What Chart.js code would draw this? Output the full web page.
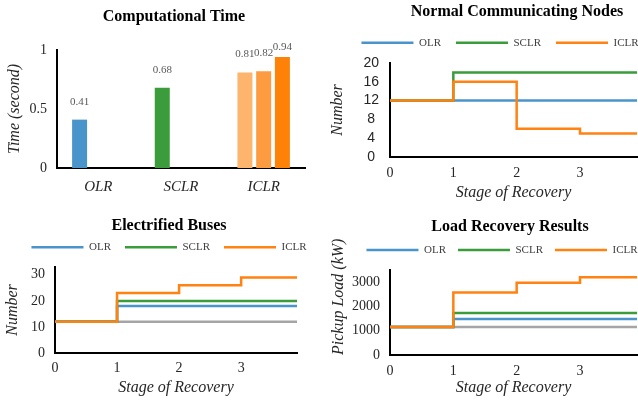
<!DOCTYPE html>
<html>
<head>
<meta charset="utf-8">
<script src="https://cdn.jsdelivr.net/npm/chart.js@4.4.1/dist/chart.umd.min.js"></script>
<style>
  html, body { margin: 0; padding: 0; background: #fff; }
  #wrap { position: relative; width: 638px; height: 403px; overflow: hidden; }
  canvas { position: absolute; }
</style>
</head>
<body>
<div id="wrap">
  <canvas id="chart-time" width="319" height="200" style="left:0;top:0"></canvas>
  <canvas id="chart-nodes" width="319" height="203" style="left:319px;top:0"></canvas>
  <canvas id="chart-buses" width="319" height="203" style="left:0;top:200px"></canvas>
  <canvas id="chart-load" width="319" height="203" style="left:319px;top:200px"></canvas>
</div>
<script>
Chart.defaults.font.family = "'Liberation Serif', 'Times New Roman', serif";
Chart.defaults.color = '#262626';
Chart.defaults.animation = false;

// computational time (seconds), ICLR has three bars
var methods = ['OLR', 'SCLR', 'ICLR'];
var timeFirst = [0.41, 0.68, 0.81];
var timeSecond = [null, null, 0.82];
var timeThird = [null, null, 0.94];
var timeTicks = [0, 0.5, 1];

// stage of recovery (last point only carries the line to the edge)
var stages = [0, 1, 2, 3, 4];
var stageTicks = [0, 1, 2, 3];

var nodesOLR = [12, 12, 12, 12, 12];
var nodesSCLR = [12, 18, 18, 18, 18];
var nodesICLR = [12, 16, 6, 5, 5];
var nodesTicks = [0, 4, 8, 12, 16, 20];

var busesBase = [12, 12, 12, 12, 12];
var busesOLR = [12, 18, 18, 18, 18];
var busesSCLR = [12, 20, 20, 20, 20];
var busesICLR = [12, 23, 26, 29, 29];
var busesTicks = [0, 10, 20, 30];

var loadBase = [1150, 1150, 1150, 1150, 1150];
var loadOLR = [1150, 1480, 1480, 1480, 1480];
var loadSCLR = [1150, 1730, 1730, 1730, 1730];
var loadICLR = [1150, 2570, 2980, 3200, 3200];
var loadTicks = [0, 1000, 2000, 3000];

//colors
var blue = '#4a94cc', green = '#3a9c3a', orange = '#ff8212', gray = '#a5a5a5';
var orangeLight = '#fdb46c', orangeMid = '#fd9b40', orangeDark = '#fe8208';

// title and legend are a bit off-centre in the original, move them after layout
var nudge = {
    id: 'nudge',
    afterLayout: function(chart, args, opts) {
        [[chart.titleBlock, opts.title], [chart.legend, opts.legend]].forEach(function(p) {
            if (!p[0] || !p[1]) return;
            p[0].left += p[1][0]; p[0].right += p[1][0];
            p[0].top += p[1][1]; p[0].bottom += p[1][1];
        });
    }
};

// long y title that runs above the plot (chart.js would squeeze it to the axis height)
var sideTitle = {
    id: 'sideTitle',
    afterDraw: function(chart, args, opts) {
        if (!opts.text) return;
        var ctx = chart.ctx;
        ctx.save();
        ctx.translate(opts.x, chart.chartArea.bottom);
        ctx.rotate(-Math.PI / 2);
        ctx.font = "italic 16px 'Liberation Serif'";
        ctx.fillStyle = '#262626';
        ctx.textAlign = 'left';
        ctx.textBaseline = 'middle';
        ctx.fillText(opts.text, 0, 0);
        ctx.restore();
    }
};

// value labels above the bars
var barLabels = {
    id: 'barLabels',
    afterDatasetsDraw: function(chart) {
        var ctx = chart.ctx;
        ctx.save();
        ctx.font = "11px 'Liberation Serif'";
        ctx.fillStyle = '#595959';
        ctx.textAlign = 'center';
        ctx.textBaseline = 'middle';
        chart.data.datasets.forEach(function(ds, i) {
            chart.getDatasetMeta(i).data.forEach(function(bar, j) {
                if (ds.data[j] == null) return;
                var y = Math.max(bar.y - 18, chart.chartArea.top - 3);
                ctx.fillText(ds.data[j].toFixed(2), bar.x, y);
            });
        });
        ctx.restore();
    }
};

function fixedTicks(values) {
    return function(s) { s.ticks = values.map(function(v) { return {value: v}; }); };
}

function padAxis(w) {
    return {
        type: 'linear', position: 'right', display: true,
        grid: {display: false, drawTicks: false}, border: {display: false}, ticks: {display: false},
        afterFit: function(s) { s.width = w; }
    };
}

new Chart(document.getElementById('chart-time'), {
    type: 'bar',
    data: {
        labels: methods,
        datasets: [
            {data: timeFirst, backgroundColor: [blue, green, orangeLight]},
            {data: timeSecond, backgroundColor: orangeMid},
            {data: timeThird, backgroundColor: orangeDark}
        ]
    },
    options: {
        responsive: false,
        events: [],
        layout: {padding: {top: 30.8}},
        datasets: {bar: {categoryPercentage: 0.68, barPercentage: 0.8}},
        plugins: {
            legend: {display: false},
            tooltip: {enabled: false},
            title: {display: true, text: 'Computational Time', color: '#000', font: {size: 16, weight: 'bold'}, padding: 0},
            nudge: {title: [14.5, -23.1]}
        },
        scales: {
            x: {
                grid: {display: false, drawTicks: false},
                border: {color: '#000', width: 2},
                ticks: {font: {size: 15, style: 'italic'}, padding: 10},
                afterFit: function(s) { s.height = 32; }
            },
            y: {
                min: 0, max: 1,
                grid: {display: false, drawTicks: false},
                border: {color: '#000', width: 2},
                afterBuildTicks: fixedTicks(timeTicks),
                ticks: {autoSkip: false, font: {size: 14}, padding: 10,
                    callback: function(v) { return '' + v; }},
                title: {display: true, text: 'Time (second)', font: {size: 16, style: 'italic'}, padding: {top: 5.4, bottom: 0}},
                afterFit: function(s) { s.width = 57; }
            },
            pad: padAxis(14)
        }
    },
    plugins: [nudge, barLabels]
});

function stepChart(id, title, yTitle, yMax, yTicks, series, base, lay) {
    var list = series.slice().reverse();   // ICLR drawn on top
    if (base) list.push({label: 'base', data: base, color: gray});
    var datasets = list.map(function(s) {
        return {
            label: s.label,
            data: stages.map(function(x, i) { return {x: x, y: s.data[i]}; }),
            borderColor: s.color,
            backgroundColor: s.color,
            borderWidth: 2.5,
            pointRadius: 0,
            pointBorderWidth: 2.5,
            stepped: true,
            fill: false
        };
    });

    var scales = {
        x: {
            type: 'linear', min: 0, max: 3.9,
            grid: {display: false, drawTicks: false},
            border: {color: '#000', width: 2},
            afterBuildTicks: fixedTicks(stageTicks),
            ticks: {autoSkip: false, font: {size: 14}, padding: lay.xTickPad},
            title: {display: true, text: 'Stage of Recovery', font: {size: 16, style: 'italic'}, padding: {top: 0, bottom: lay.xTitlePad}},
            afterFit: function(s) { s.height = lay.bottom; }
        },
        y: {
            type: 'linear', min: 0, max: yMax,
            grid: {display: false, drawTicks: false},
            border: {color: '#000', width: 2},
            afterBuildTicks: fixedTicks(yTicks),
            ticks: {
                autoSkip: false, padding: lay.yTickPad,
                font: lay.yTickFont || {size: 14},
                crossAlign: lay.yCross || 'near',
                callback: function(v) { return '' + v; }
            },
            title: {display: !lay.sideTitle, text: yTitle, font: {size: 16, style: 'italic'}, padding: {top: lay.yTitlePad, bottom: 0}},
            afterFit: function(s) { s.width = lay.left; }
        }
    };
    if (lay.right) scales.pad = padAxis(lay.right);

    return new Chart(document.getElementById(id), {
        type: 'line',
        data: {datasets: datasets},
        options: {
            responsive: false,
            events: [],
            layout: {padding: {top: lay.top}},
            plugins: {
                tooltip: {enabled: false},
                title: {display: true, text: title, color: '#000', font: {size: 16, weight: 'bold'}, padding: 0},
                legend: {
                    display: true,
                    reverse: true,
                    labels: {
                        usePointStyle: true, pointStyle: 'line', pointStyleWidth: 52,
                        font: {size: 11}, color: '#404040', padding: lay.legendPad,
                        filter: function(item) { return item.text !== 'base'; }
                    }
                },
                nudge: {title: lay.titleNudge, legend: lay.legendNudge},
                sideTitle: {text: lay.sideTitle ? yTitle : '', x: lay.sideTitle}
            },
            scales: scales
        },
        plugins: [nudge, sideTitle]
    });
}

stepChart('chart-nodes', 'Normal Communicating Nodes', 'Number', 20, nodesTicks,
    [{label: 'OLR', data: nodesOLR, color: blue},
     {label: 'SCLR', data: nodesSCLR, color: green},
     {label: 'ICLR', data: nodesICLR, color: orange}],
    null,
    {top: 7.8, left: 71, right: 1, bottom: 46, legendPad: 15, xTickPad: 7.6, xTitlePad: 0.4,
     yTickPad: 11, yTitlePad: 9.4, yCross: 'center',
     yTickFont: {size: 14, family: "'Liberation Sans', Arial, sans-serif"},
     titleNudge: [38.5, -5.1], legendNudge: [21.5, -4.8]});

stepChart('chart-buses', 'Electrified Buses', 'Number', 33, busesTicks,
    [{label: 'OLR', data: busesOLR, color: blue},
     {label: 'SCLR', data: busesSCLR, color: green},
     {label: 'ICLR', data: busesICLR, color: orange}],
    busesBase,
    {top: 12.8, left: 55, right: 22, bottom: 50, legendPad: 14, xTickPad: 7, xTitlePad: 5.4,
     yTickPad: 10, yTitlePad: 2.7,
     titleNudge: [9.5, 3.6], legendNudge: [9.5, -4.2]});

stepChart('chart-load', 'Load Recovery Results', 'Pickup Load (kW)', 3500, loadTicks,
    [{label: 'OLR', data: loadOLR, color: blue},
     {label: 'SCLR', data: loadSCLR, color: green},
     {label: 'ICLR', data: loadICLR, color: orange}],
    loadBase,
    {top: 17.8, left: 71, right: 1, bottom: 48, legendPad: 12, xTickPad: 8.3, xTitlePad: 5.4,
     yTickPad: 10, sideTitle: 20,
     titleNudge: [31.5, -0.7], legendNudge: [23.5, -4.5]});
</script>
</body>
</html>
